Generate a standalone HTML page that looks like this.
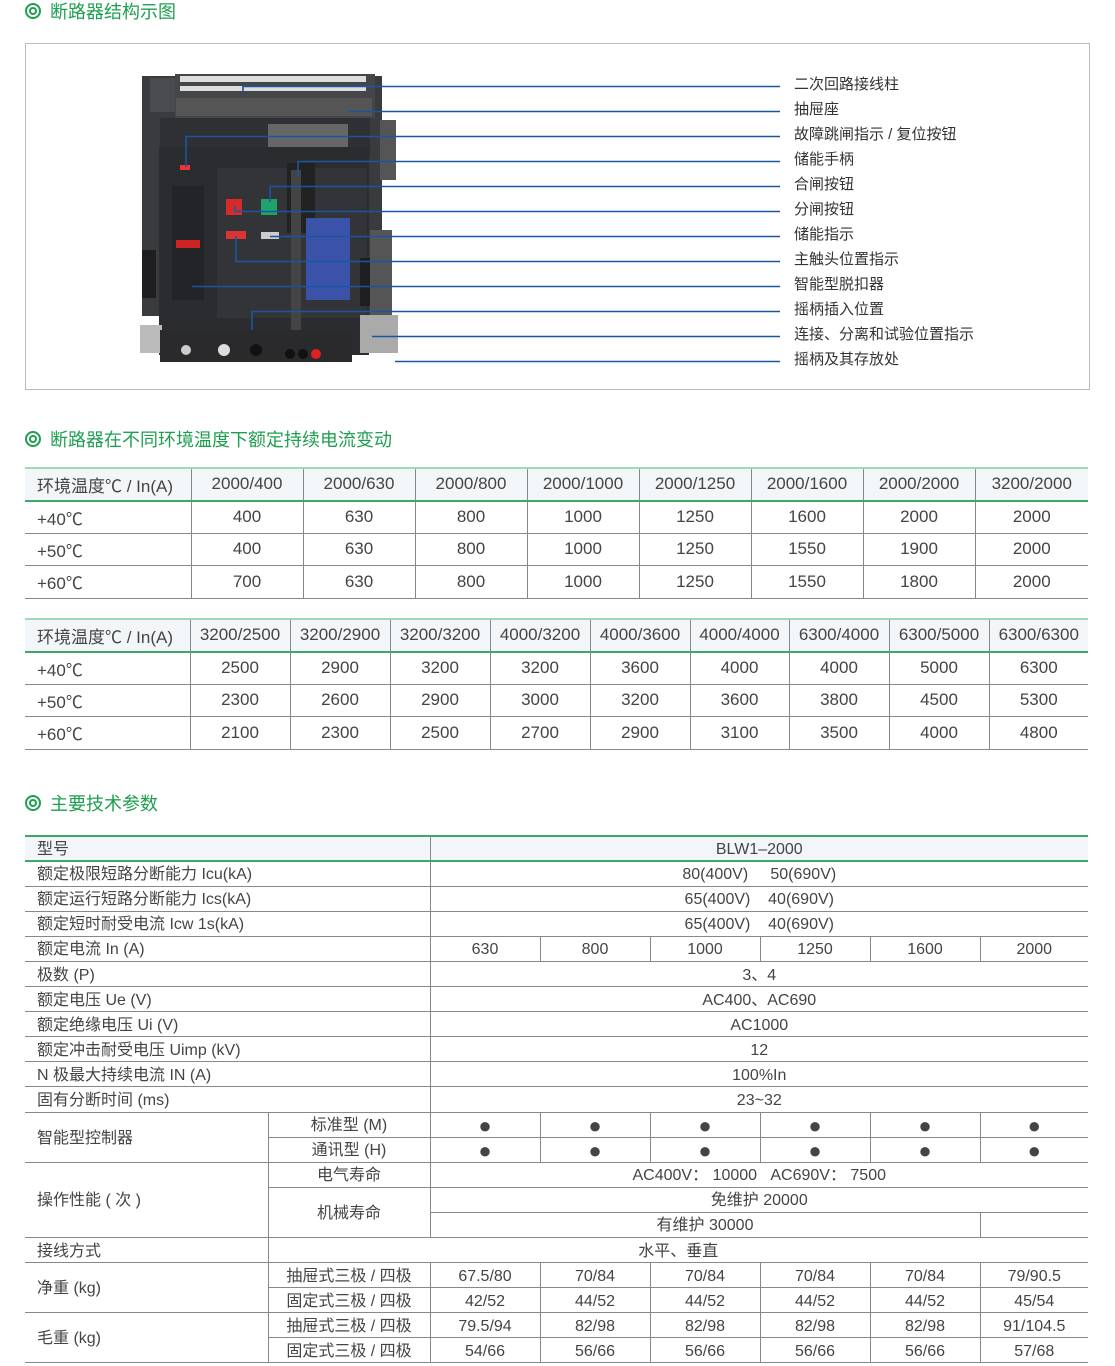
<!DOCTYPE html>
<html><head><meta charset="utf-8">
<style>
*{margin:0;padding:0;box-sizing:border-box}
body{width:1115px;height:1366px;background:#fff;position:relative;overflow:hidden;font-family:"Liberation Sans","Noto Sans CJK SC",sans-serif;color:#333}
.h{position:absolute;left:25px;font-size:18px;color:#1e9f4f;line-height:22px;white-space:nowrap}
.h span{display:inline-block;width:16px;height:16px;border:2px solid #1e9f4f;border-radius:50%;position:relative;margin-right:9px;vertical-align:-1px}
.h span:after{content:"";position:absolute;left:2px;top:2px;width:8px;height:8px;border:2px solid #1e9f4f;border-radius:50%;box-sizing:border-box}
table{position:absolute;border-collapse:collapse;table-layout:fixed;font-size:16px;color:#444}
td{border:1px solid #888;text-align:center;white-space:nowrap;padding:0;overflow:hidden}
tr td:first-child{border-left:none}
tr td:last-child{border-right:none}
.t{font-size:17px}
.t tr.hd td{background:#f2f6f9;border-top:2px solid #9fdab6;border-bottom:2px solid #3aaa66}
.t td{height:32.5px}
.l{text-align:left;padding-left:12px}
.p td{height:25.1px;line-height:21px;padding-top:2px}
.p tr.hd td{background:#f2f6f9;border-top:2px solid #3aaa66;border-bottom:2px solid #3aaa66}
.p td.b{font-size:22px;line-height:19px}
.lab{position:absolute;left:794px;font-size:15px;color:#333;line-height:18px}
</style></head><body>
<div class="h" style="top:1px"><span></span>断路器结构示图</div>
<div style="position:absolute;left:25px;top:43px;width:1065px;height:347px;border:1px solid #bbb"></div>
<svg style="position:absolute;left:0;top:0" width="1115" height="400">
<rect x="142" y="76" width="240" height="240" fill="#3a3b3e"/>
<rect x="150" y="78" width="28" height="34" fill="#4a4b4e"/>
<rect x="175" y="74" width="200" height="44" fill="#44464a"/>
<g fill="#ddd"><rect x="180" y="76" width="186" height="6"/><rect x="180" y="86" width="186" height="5"/></g>
<rect x="176" y="98" width="196" height="18" fill="#555"/>
<rect x="160" y="118" width="210" height="40" fill="#2f3033"/>
<rect x="268" y="124" width="80" height="24" fill="#666"/>
<rect x="159" y="147" width="210" height="208" fill="#2b2c2f"/>
<rect x="217" y="168" width="150" height="150" fill="#333437"/>
<rect x="172" y="186" width="32" height="114" fill="#232427"/>
<rect x="176" y="240" width="24" height="8" fill="#c22"/>
<rect x="180" y="165" width="10" height="5" fill="#e33"/>
<rect x="226" y="199" width="16" height="16" fill="#d62b2b"/>
<rect x="261" y="199" width="16" height="16" fill="#1fa36b"/>
<rect x="226" y="231" width="20" height="8" fill="#d33"/>
<rect x="261" y="232" width="18" height="7" fill="#ccc"/>
<rect x="287" y="163" width="28" height="70" fill="#222"/>
<rect x="291" y="170" width="10" height="160" fill="#444"/>
<rect x="306" y="218" width="44" height="82" fill="#3a52a8"/>
<rect x="142" y="250" width="14" height="48" fill="#1e1e20"/>
<rect x="360" y="258" width="16" height="48" fill="#1e1e20"/>
<rect x="380" y="120" width="16" height="60" fill="#555"/>
<rect x="370" y="230" width="22" height="100" fill="#555"/>
<rect x="140" y="325" width="22" height="28" fill="#bbb"/>
<rect x="360" y="315" width="38" height="38" fill="#aaa"/>
<rect x="160" y="330" width="192" height="32" fill="#2a2a2c"/>
<circle cx="186" cy="350" r="5" fill="#ccc"/><circle cx="224" cy="350" r="6" fill="#ddd"/>
<circle cx="256" cy="350" r="6" fill="#111"/><circle cx="290" cy="354" r="5" fill="#111"/><circle cx="303" cy="354" r="5" fill="#111"/><circle cx="316" cy="354" r="5" fill="#d22"/>
<g stroke="#1a56a0" stroke-width="1.6" fill="none">
<polyline points="243,92 243,86.5 780,86.5"/>
<polyline points="348,111.5 780,111.5"/>
<polyline points="186,167 186,136.5 780,136.5"/>
<polyline points="298,176 298,161.5 780,161.5"/>
<polyline points="270,202 270,186.5 780,186.5"/>
<polyline points="235,206 235,211.5 780,211.5"/>
<polyline points="270,236.5 780,236.5"/>
<polyline points="236,236 236,261.5 780,261.5"/>
<polyline points="192,286.5 780,286.5"/>
<polyline points="252,330 252,311.5 780,311.5"/>
<polyline points="372,336.5 780,336.5"/>
<polyline points="395,361.5 780,361.5"/>
</g>
</svg>
<div class="lab" style="top:76px">二次回路接线柱</div>
<div class="lab" style="top:101px">抽屉座</div>
<div class="lab" style="top:126px">故障跳闸指示 / 复位按钮</div>
<div class="lab" style="top:151px">储能手柄</div>
<div class="lab" style="top:176px">合闸按钮</div>
<div class="lab" style="top:201px">分闸按钮</div>
<div class="lab" style="top:226px">储能指示</div>
<div class="lab" style="top:251px">主触头位置指示</div>
<div class="lab" style="top:276px">智能型脱扣器</div>
<div class="lab" style="top:301px">摇柄插入位置</div>
<div class="lab" style="top:326px">连接、分离和试验位置指示</div>
<div class="lab" style="top:351px">摇柄及其存放处</div>

<div class="h" style="top:429px"><span></span>断路器在不同环境温度下额定持续电流变动</div>
<table class="t" style="left:25px;top:467px;width:1063px">
<colgroup><col style="width:166px"><col style="width:112px"><col style="width:112px"><col style="width:112px"><col style="width:112px"><col style="width:112px"><col style="width:112px"><col style="width:112px"><col style="width:113px"></colgroup>
<tr class="hd"><td class="l">环境温度℃ / In(A)</td><td>2000/400</td><td>2000/630</td><td>2000/800</td><td>2000/1000</td><td>2000/1250</td><td>2000/1600</td><td>2000/2000</td><td>3200/2000</td></tr>
<tr><td class="l">+40℃</td><td>400</td><td>630</td><td>800</td><td>1000</td><td>1250</td><td>1600</td><td>2000</td><td>2000</td></tr>
<tr><td class="l">+50℃</td><td>400</td><td>630</td><td>800</td><td>1000</td><td>1250</td><td>1550</td><td>1900</td><td>2000</td></tr>
<tr><td class="l">+60℃</td><td>700</td><td>630</td><td>800</td><td>1000</td><td>1250</td><td>1550</td><td>1800</td><td>2000</td></tr>
</table>
<table class="t" style="left:25px;top:618px;width:1063px">
<colgroup><col style="width:165px"><col style="width:100px"><col style="width:100px"><col style="width:100px"><col style="width:100px"><col style="width:100px"><col style="width:99px"><col style="width:100px"><col style="width:100px"><col style="width:99px"></colgroup>
<tr class="hd"><td class="l">环境温度℃ / In(A)</td><td>3200/2500</td><td>3200/2900</td><td>3200/3200</td><td>4000/3200</td><td>4000/3600</td><td>4000/4000</td><td>6300/4000</td><td>6300/5000</td><td>6300/6300</td></tr>
<tr><td class="l">+40℃</td><td>2500</td><td>2900</td><td>3200</td><td>3200</td><td>3600</td><td>4000</td><td>4000</td><td>5000</td><td>6300</td></tr>
<tr><td class="l">+50℃</td><td>2300</td><td>2600</td><td>2900</td><td>3000</td><td>3200</td><td>3600</td><td>3800</td><td>4500</td><td>5300</td></tr>
<tr><td class="l">+60℃</td><td>2100</td><td>2300</td><td>2500</td><td>2700</td><td>2900</td><td>3100</td><td>3500</td><td>4000</td><td>4800</td></tr>
</table>

<div class="h" style="top:793px"><span></span>主要技术参数</div>
<table class="p" style="left:25px;top:835px;width:1063px">
<colgroup><col style="width:243px"><col style="width:162px"><col style="width:110px"><col style="width:110px"><col style="width:110px"><col style="width:110px"><col style="width:110px"><col style="width:108px"></colgroup>
<tr class="hd"><td class="l" colspan="2">型号</td><td colspan="6">BLW1–2000</td></tr>
<tr><td class="l" colspan="2">额定极限短路分断能力 Icu(kA)</td><td colspan="6">80(400V)&nbsp;&nbsp;&nbsp;&nbsp;&nbsp;50(690V)</td></tr>
<tr><td class="l" colspan="2">额定运行短路分断能力 Ics(kA)</td><td colspan="6">65(400V)&nbsp;&nbsp;&nbsp;&nbsp;40(690V)</td></tr>
<tr><td class="l" colspan="2">额定短时耐受电流 Icw 1s(kA)</td><td colspan="6">65(400V)&nbsp;&nbsp;&nbsp;&nbsp;40(690V)</td></tr>
<tr><td class="l" colspan="2">额定电流 In (A)</td><td>630</td><td>800</td><td>1000</td><td>1250</td><td>1600</td><td>2000</td></tr>
<tr><td class="l" colspan="2">极数 (P)</td><td colspan="6">3、4</td></tr>
<tr><td class="l" colspan="2">额定电压 Ue (V)</td><td colspan="6">AC400、AC690</td></tr>
<tr><td class="l" colspan="2">额定绝缘电压 Ui (V)</td><td colspan="6">AC1000</td></tr>
<tr><td class="l" colspan="2">额定冲击耐受电压 Uimp (kV)</td><td colspan="6">12</td></tr>
<tr><td class="l" colspan="2">N 极最大持续电流 IN (A)</td><td colspan="6">100%In</td></tr>
<tr><td class="l" colspan="2">固有分断时间 (ms)</td><td colspan="6">23~32</td></tr>
<tr><td class="l" rowspan="2">智能型控制器</td><td>标准型 (M)</td><td class="b">●</td><td class="b">●</td><td class="b">●</td><td class="b">●</td><td class="b">●</td><td class="b">●</td></tr>
<tr><td>通讯型 (H)</td><td class="b">●</td><td class="b">●</td><td class="b">●</td><td class="b">●</td><td class="b">●</td><td class="b">●</td></tr>
<tr><td class="l" rowspan="3">操作性能 ( 次 )</td><td>电气寿命</td><td colspan="6">AC400V： 10000&nbsp;&nbsp;&nbsp;AC690V： 7500</td></tr>
<tr><td rowspan="2">机械寿命</td><td colspan="6">免维护 20000</td></tr>
<tr><td colspan="5">有维护 30000</td><td></td></tr>
<tr><td class="l">接线方式</td><td colspan="7">水平、垂直</td></tr>
<tr><td class="l" rowspan="2">净重 (kg)</td><td>抽屉式三极 / 四极</td><td>67.5/80</td><td>70/84</td><td>70/84</td><td>70/84</td><td>70/84</td><td>79/90.5</td></tr>
<tr><td>固定式三极 / 四极</td><td>42/52</td><td>44/52</td><td>44/52</td><td>44/52</td><td>44/52</td><td>45/54</td></tr>
<tr><td class="l" rowspan="2">毛重 (kg)</td><td>抽屉式三极 / 四极</td><td>79.5/94</td><td>82/98</td><td>82/98</td><td>82/98</td><td>82/98</td><td>91/104.5</td></tr>
<tr><td>固定式三极 / 四极</td><td>54/66</td><td>56/66</td><td>56/66</td><td>56/66</td><td>56/66</td><td>57/68</td></tr>
</table>
</body></html>
